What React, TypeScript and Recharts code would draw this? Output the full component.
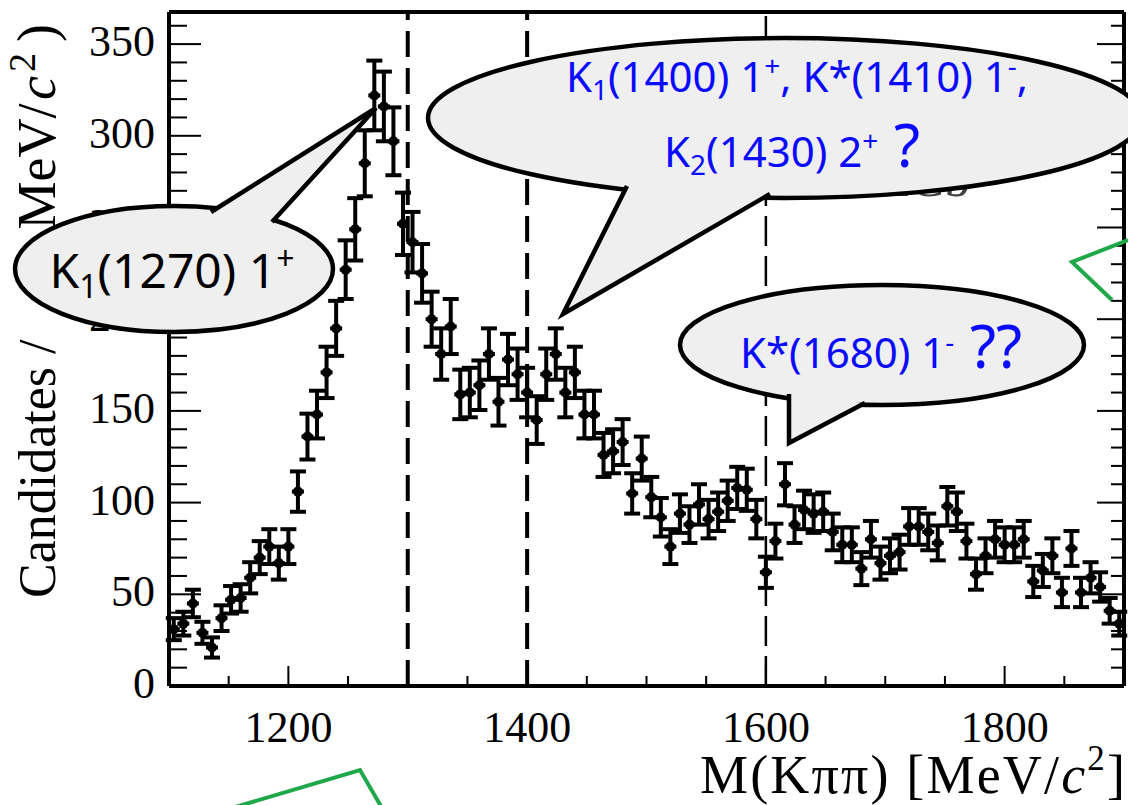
import React from 'react';
import { ScatterChart, Scatter, XAxis, YAxis, ErrorBar, ReferenceLine } from 'recharts';

// 8 MeV bins from 1100 to 1900
const BIN_START = 1100;
const BIN_WIDTH = 8;

const counts = [
  31, 34, 45, 29, 21, 37, 47, 48, 59, 70,
  76, 67, 76, 106, 136, 148, 171, 195, 227, 249,
  285, 322, 316, 297, 252, 242, 225, 200, 181, 196,
  159, 160, 164, 181, 155, 178, 170, 160, 145, 170,
  181, 160, 171, 148, 148, 126, 128, 133, 105, 124,
  103, 92, 76, 94, 88, 99, 91, 95, 101, 108,
  107, 91, 62, 79, 110, 88, 96, 94, 95, 84,
  77, 77, 64, 80, 67, 71, 73, 87, 87, 84,
  78, 98, 95, 79, 61, 71, 80, 77, 77, 80,
  57, 63, 71, 51, 75, 51, 59, 54, 41, 34,
];

const errors = [
  6, 6.5, 7.5, 6, 5.5, 7, 7.5, 7.5, 8.5, 9,
  9.5, 9, 9.5, 11, 12.5, 13, 14, 15, 16, 17,
  18, 19, 19, 18.5, 17, 16.5, 16, 15, 14, 15,
  13.5, 13.5, 13.5, 14, 13, 14, 14, 13.5, 13, 14,
  14, 13.5, 14, 13, 13, 12, 12, 12.5, 11, 12,
  11, 10.5, 9.5, 10.5, 10, 11, 10.5, 10.5, 11, 11.5,
  11.5, 10.5, 8.5, 9.5, 11.5, 10, 10.5, 10.5, 10.5, 10,
  9.5, 9.5, 9, 10, 9, 9.5, 9.5, 10, 10, 10,
  9.5, 10.5, 10.5, 9.5, 8.5, 9.5, 10, 9.5, 9.5, 10,
  8.5, 9, 9.5, 8, 9.5, 8, 8.5, 8, 7, 6.5,
];

const xLabelTicks = [1200, 1400, 1600, 1800];
const yLabelTicks = [0, 50, 100, 150, 200, 250, 300, 350];
const resonanceLines = [1300, 1400, 1600];

const points = counts.map((n, i) => ({
  m: BIN_START + BIN_WIDTH * (i + 0.5),
  n,
  err: errors[i],
}));

const xTicks = Array.from({ length: 17 }, (_, i) => 1100 + 50 * i);
const yTicks = Array.from({ length: 37 }, (_, i) => 10 * i);

const serif = '"Liberation Serif", "Times New Roman", serif';
const sans = '"Noto Sans", "Open Sans", sans-serif';
const blue = '#0a0aff';

const LeftTick = (props: any) => {
  const { x, y, payload } = props;
  const v = payload.value;
  const major = v % 50 === 0;
  return (
    <g>
      <line x1={x} x2={x + (major ? 32 : 18)} y1={y} y2={y} stroke="#000" strokeWidth={2} />
      {yLabelTicks.includes(v) && (
        <text x={x - 14} y={y + 12} textAnchor="end" fontFamily={serif} fontSize={44} fill="#000">
          {v}
        </text>
      )}
    </g>
  );
};

const RightTick = (props: any) => {
  const { x, y, payload } = props;
  const major = payload.value % 50 === 0;
  return <line x1={x} x2={x - (major ? 27 : 13)} y1={y} y2={y} stroke="#000" strokeWidth={2} />;
};

const BottomTick = (props: any) => {
  const { x, y, payload } = props;
  const v = payload.value;
  const major = v % 200 === 0;
  return (
    <g>
      <line x1={x} x2={x} y1={y} y2={y - (major ? 20 : 10)} stroke="#000" strokeWidth={2} />
      {xLabelTicks.includes(v) && (
        <text x={x} y={y + 56} textAnchor="middle" fontFamily={serif} fontSize={44} fill="#000">
          {v}
        </text>
      )}
    </g>
  );
};

const TopTick = (props: any) => {
  const { x, y, payload } = props;
  const major = payload.value % 200 === 0;
  return <line x1={x} x2={x} y1={y} y2={y + (major ? 20 : 10)} stroke="#000" strokeWidth={2} />;
};

const Marker = (props: any) => {
  const { cx, cy } = props;
  return (
    <g>
      <circle cx={cx} cy={cy} r={5} fill="#000" />
      <line x1={cx - 6} x2={cx + 6} y1={cy} y2={cy} stroke="#000" strokeWidth={4} />
    </g>
  );
};

const Bubble = ({ cx, cy, rx, ry, tail }: { cx: number; cy: number; rx: number; ry: number; tail: number[][] }) => {
  const pts = tail.map((p) => p.join(',')).join(' ');
  return (
    <g>
      <ellipse cx={cx} cy={cy} rx={rx} ry={ry} fill="#efefef" stroke="#000" strokeWidth={4.5} />
      <polygon points={pts} fill="#efefef" stroke="none" />
      <polyline points={pts} fill="none" stroke="#000" strokeWidth={4.5} strokeLinejoin="miter" />
    </g>
  );
};

const axisLine = { stroke: '#000', strokeWidth: 4 };

export default function App() {
  return (
    <div style={{ position: 'absolute', left: 0, top: 0, width: 1128, height: 805, background: '#fff', overflow: 'hidden' }}>
      <ScatterChart width={1128} height={805} margin={{ top: 0, right: 0, bottom: 0, left: 0 }}>
        <XAxis
          dataKey="m"
          type="number"
          domain={[1100, 1900]}
          allowDataOverflow
          ticks={xTicks}
          interval={0}
          tickSize={0}
          tickMargin={0}
          height={119}
          axisLine={axisLine}
          tick={<BottomTick />}
        />
        <XAxis
          xAxisId="top"
          orientation="top"
          type="number"
          domain={[1100, 1900]}
          allowDataOverflow
          ticks={xTicks}
          interval={0}
          tickSize={0}
          tickMargin={0}
          height={12}
          axisLine={axisLine}
          tick={<TopTick />}
        />
        <YAxis
          dataKey="n"
          type="number"
          domain={[0, 367.5]}
          allowDataOverflow
          ticks={yTicks}
          interval={0}
          tickSize={0}
          tickMargin={0}
          width={169}
          axisLine={axisLine}
          tick={<LeftTick />}
        />
        <YAxis
          yAxisId="right"
          orientation="right"
          type="number"
          domain={[0, 367.5]}
          allowDataOverflow
          ticks={yTicks}
          interval={0}
          tickSize={0}
          tickMargin={0}
          width={4}
          axisLine={axisLine}
          tick={<RightTick />}
        />
        {resonanceLines.map((m) => (
          <ReferenceLine
            key={m}
            x={m}
            stroke="#000"
            strokeWidth={m === 1600 ? 2.5 : 4}
            strokeDasharray={m === 1600 ? '30 10' : '26 11'}
          />
        ))}
        <Scatter data={points} shape={<Marker />} isAnimationActive={false}>
          <ErrorBar dataKey="err" direction="y" width={8} stroke="#000" strokeWidth={4} isAnimationActive={false} />
        </Scatter>
      </ScatterChart>

      <svg width={1128} height={805} style={{ position: 'absolute', left: 0, top: 0, pointerEvents: 'none' }}>
        {/* axis titles */}
        <g transform="translate(55,0) rotate(-90)" fontFamily={serif} fontSize={52} fill="#000">
          <text x={-598} y={0} textAnchor="start">Candidates /</text>
          <text y={0} fontSize={54}>
            <tspan x={-288}>(8 MeV/</tspan>
            <tspan x={-100} fontStyle="italic">c</tspan>
            <tspan x={-72} fontSize={38} dy={-20}>2</tspan>
            <tspan x={-42} dy={20}>)</tspan>
          </text>
        </g>
        <text x={1125} y={793} textAnchor="end" fontFamily={serif} fontSize={54} fill="#000" textLength={425} lengthAdjust="spacing">
          M(K&#960;&#960;) [MeV/<tspan fontStyle="italic">c</tspan>
          <tspan fontSize={35} dy={-23}>2</tspan>
          <tspan dy={23}>]</tspan>
        </text>

        <text x={905} y={196} textAnchor="middle" fontFamily={serif} fontSize={52} fill="#444">LHCb</text>

        {/* annotation bubbles */}
        <Bubble cx={174} cy={269} rx={159} ry={63} tail={[[211, 212], [376, 108], [272, 222]]} />
        <text x={172} y={288} textAnchor="middle" fontFamily={sans} fontSize={48} fill="#000">
          K<tspan fontSize={32} dy={10}>1</tspan>
          <tspan dy={-10}>(1270) 1</tspan>
          <tspan fontSize={32} dy={-18}>+</tspan>
        </text>

        <Bubble cx={785} cy={118} rx={357} ry={80} tail={[[627, 186], [563, 314], [770, 194]]} />
        <text x={797} y={92} textAnchor="middle" fontFamily={sans} fontSize={42} fill={blue}>
          K<tspan fontSize={28} dy={8}>1</tspan>
          <tspan dy={-8}>(1400) 1</tspan>
          <tspan fontSize={28} dy={-16}>+</tspan>
          <tspan dy={16}>, K*(1410) 1</tspan>
          <tspan fontSize={28} dy={-16}>-</tspan>
          <tspan dy={16}>,</tspan>
        </text>
        <text x={792} y={167} textAnchor="middle" fontFamily={sans} fontSize={42} fill={blue}>
          K<tspan fontSize={28} dy={8}>2</tspan>
          <tspan dy={-8}>(1430) 2</tspan>
          <tspan fontSize={28} dy={-16}>+</tspan>
          <tspan dy={16} fontSize={60}> ?</tspan>
        </text>

        <Bubble cx={882} cy={345} rx={202} ry={60} tail={[[789, 394], [789, 443], [865, 403]]} />
        <text x={881} y={368} textAnchor="middle" fontFamily={sans} fontSize={42} fill={blue}>
          K*(1680) 1<tspan fontSize={28} dy={-16}>-</tspan>
          <tspan dy={16} fontSize={60}> ??</tspan>
        </text>

        {/* slide decorations */}
        <polyline points="1128,240 1072,262 1112,300" fill="none" stroke="#1fa84a" strokeWidth={4} />
        <polyline points="232,808 360,770 382,808" fill="none" stroke="#1fa84a" strokeWidth={4} />
      </svg>
    </div>
  );
}
